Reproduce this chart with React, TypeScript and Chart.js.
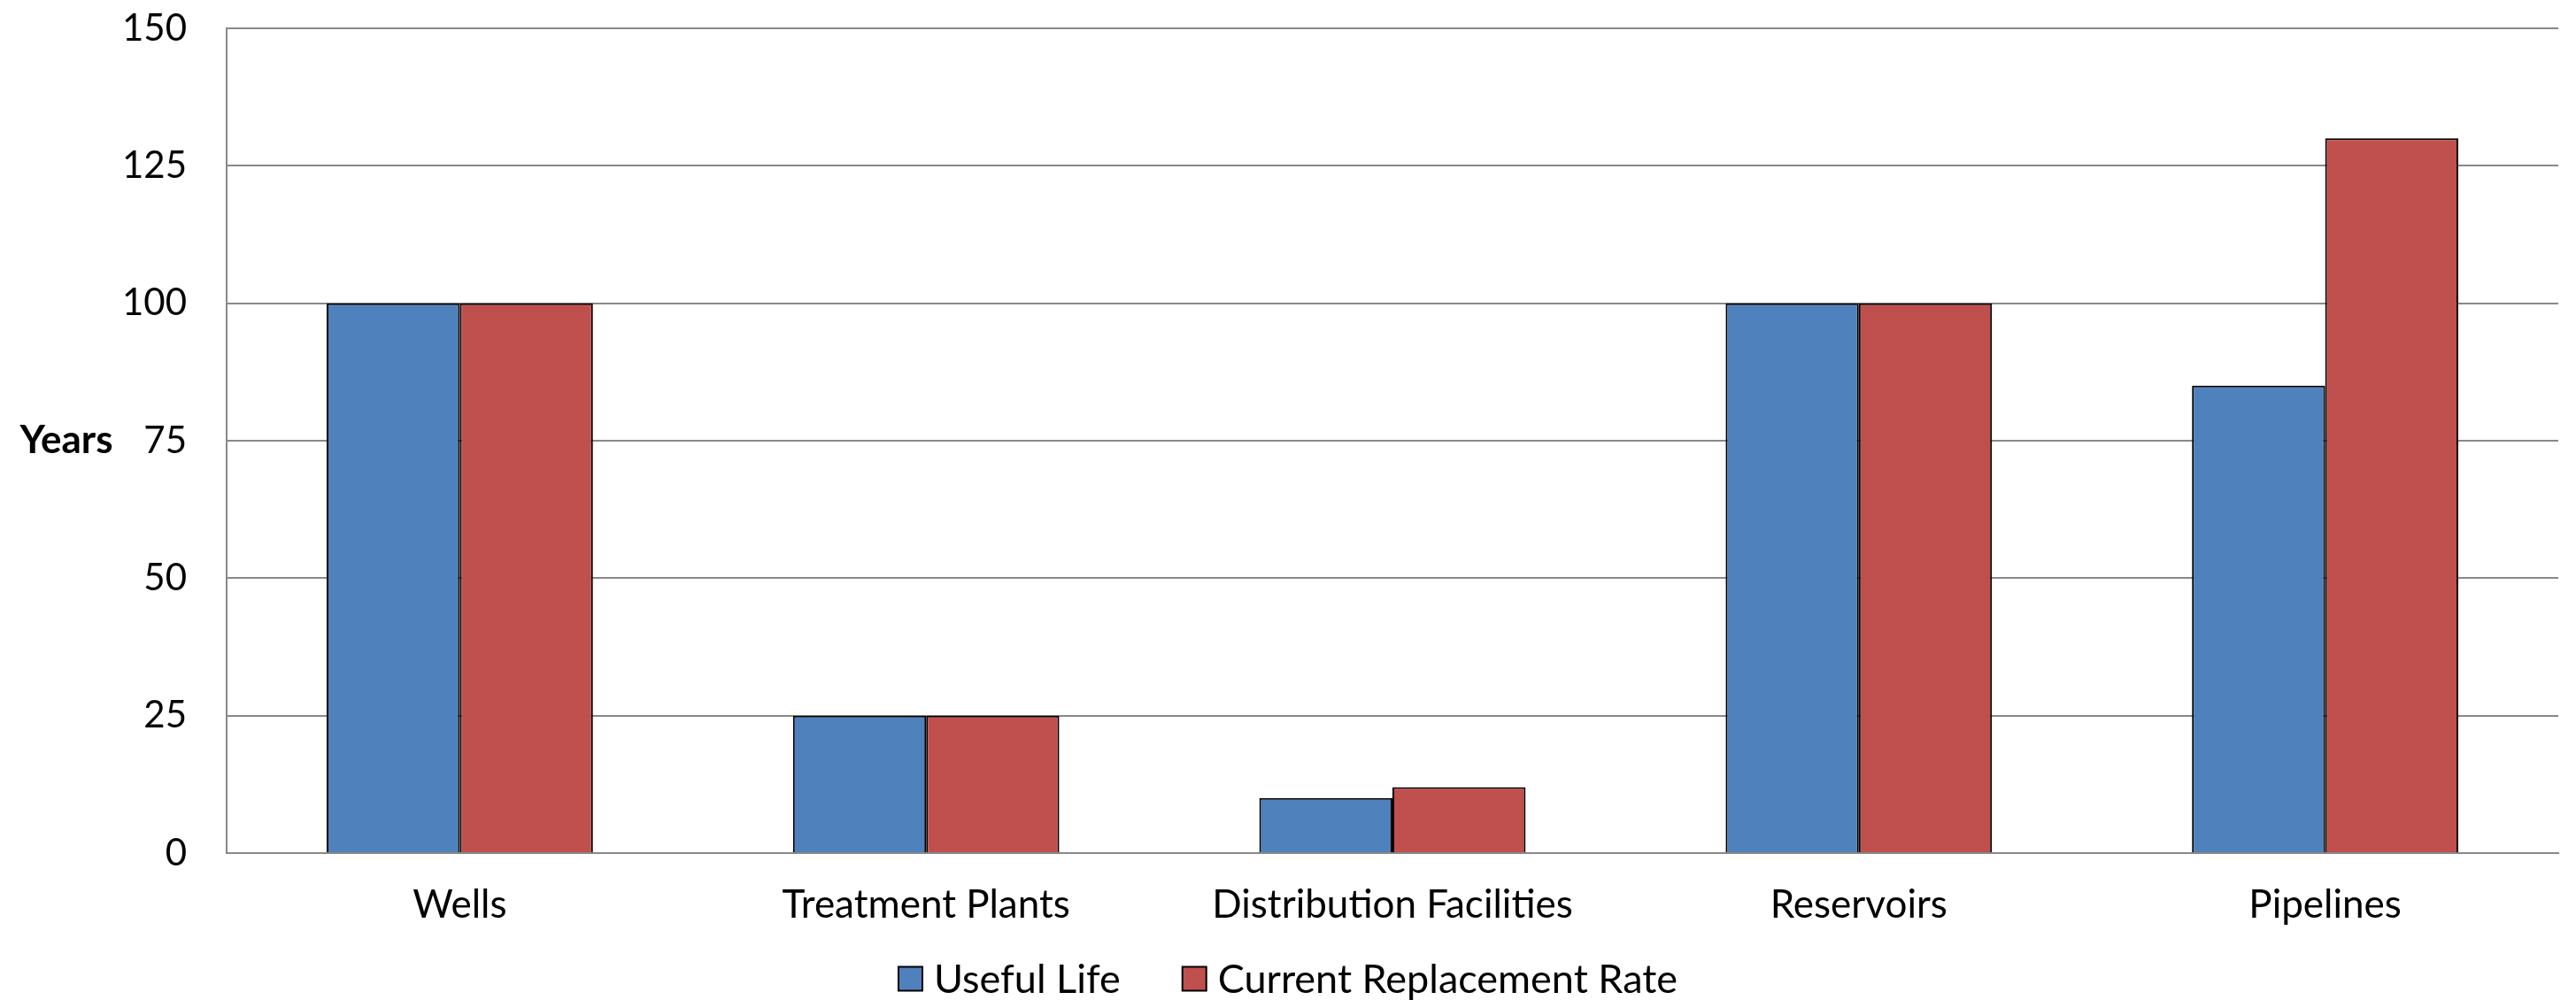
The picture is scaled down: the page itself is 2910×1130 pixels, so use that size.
import React, { useEffect, useRef } from "react";
import { Chart, registerables } from "chart.js";

Chart.register(...registerables);

const categories = ["Wells", "Treatment Plants", "Distribution Facilities", "Reservoirs", "Pipelines"];
const usefulLife = [100, 25, 10, 100, 85];
const replacementRate = [100, 25, 12, 100, 130];
const seriesNames = ["Useful Life", "Current Replacement Rate"];
const seriesColors = ["#4F81BD", "#C0504D"];
const yMin = 0;
const yMax = 150;
const yStep = 25;
const axisTitle = "Years";

const FONT = "Lato, 'Open Sans', sans-serif";
const WIDTH = 2910;
const HEIGHT = 1130;

// Horizontal "Years" title to the left of the value axis
const axisTitlePlugin = {
  id: "axisTitle",
  afterDraw(chart: any) {
    const { ctx, chartArea } = chart;
    ctx.save();
    ctx.font = `bold 44px ${FONT}`;
    ctx.fillStyle = "#000";
    ctx.textAlign = "center";
    ctx.textBaseline = "middle";
    ctx.fillText(axisTitle, 75, (chartArea.top + chartArea.bottom) / 2);
    ctx.restore();
  },
};

// Legend row centred under the chart
const legendPlugin = {
  id: "bottomLegend",
  afterDraw(chart: any) {
    const { ctx } = chart;
    const box = 27;
    const gapText = 13;
    const gapItem = 70;
    ctx.save();
    ctx.font = `45px ${FONT}`;
    ctx.textBaseline = "middle";
    const items = chart.data.datasets.map((ds: any) => ({
      label: ds.label,
      color: ds.backgroundColor,
      w: ctx.measureText(ds.label).width,
    }));
    const total =
      items.reduce((s: number, it: any) => s + box + gapText + it.w, 0) + gapItem * (items.length - 1);
    let x = chart.width / 2 - total / 2;
    const cy = 1106;
    items.forEach((it: any) => {
      ctx.fillStyle = it.color;
      ctx.fillRect(x, cy - box / 2, box, box);
      ctx.lineWidth = 2;
      ctx.strokeStyle = "#000";
      ctx.strokeRect(x, cy - box / 2, box, box);
      ctx.fillStyle = "#000";
      ctx.textAlign = "left";
      ctx.fillText(it.label, x + box + gapText, cy + 1);
      x += box + gapText + it.w + gapItem;
    });
    ctx.restore();
  },
};

export default function App() {
  const canvasRef = useRef<HTMLCanvasElement | null>(null);

  useEffect(() => {
    if (!canvasRef.current) return;
    Chart.defaults.color = "#000";
    const chart = new Chart(canvasRef.current, {
      type: "bar",
      data: {
        labels: categories,
        datasets: [
          {
            label: seriesNames[0],
            data: usefulLife,
            backgroundColor: seriesColors[0],
            borderColor: "#000",
            borderWidth: 2,
          },
          {
            label: seriesNames[1],
            data: replacementRate,
            backgroundColor: seriesColors[1],
            borderColor: "#000",
            borderWidth: 2,
          },
        ],
      },
      options: {
        animation: false,
        responsive: true,
        maintainAspectRatio: false,
        datasets: {
          bar: { categoryPercentage: 0.571, barPercentage: 1 },
        },
        layout: { padding: { top: 32, right: 20, bottom: 80, left: 0 } },
        plugins: {
          legend: { display: false },
          tooltip: { enabled: false },
          title: { display: false },
        },
        scales: {
          x: {
            grid: { display: false, drawTicks: false },
            border: { display: true, color: "#888888", width: 2 },
            ticks: {
              font: { family: FONT, size: 44 },
              color: "#000",
              padding: 32,
              maxRotation: 0,
              autoSkip: false,
            },
            afterFit(scale: any) {
              scale.height = 86;
              scale.paddingLeft = 0;
              scale.paddingRight = 0;
            },
          },
          y: {
            min: yMin,
            max: yMax,
            grid: { color: "#888888", lineWidth: 2, drawTicks: false },
            border: { display: true, color: "#888888", width: 2 },
            ticks: {
              stepSize: yStep,
              font: { family: FONT, size: 42 },
              color: "#000",
              padding: 45,
            },
            afterFit(scale: any) {
              scale.width = 256;
              scale.paddingTop = 0;
              scale.paddingBottom = 0;
            },
          },
        },
      },
      plugins: [axisTitlePlugin, legendPlugin],
    });
    return () => chart.destroy();
  }, []);

  return (
    <div style={{ position: "fixed", left: 0, top: 0, width: WIDTH, height: HEIGHT, background: "#fff" }}>
      <canvas ref={canvasRef} />
    </div>
  );
}
